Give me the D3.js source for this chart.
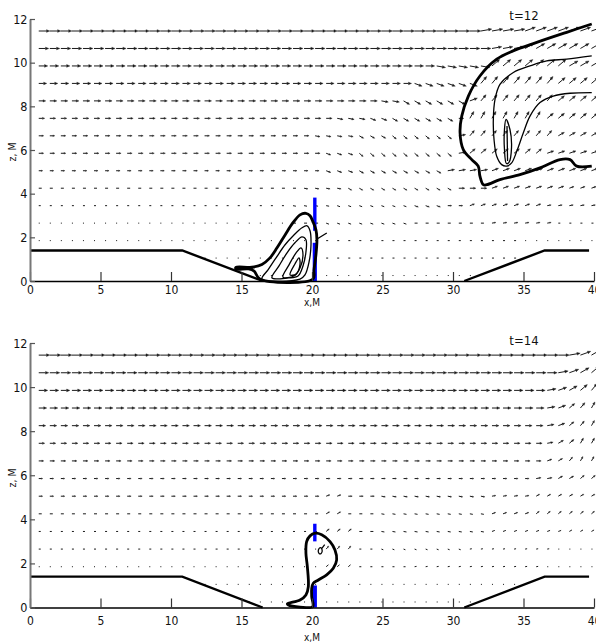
<!DOCTYPE html>
<html>
<head>
<meta charset="utf-8">
<script src="https://cdn.jsdelivr.net/npm/d3@7"></script>
<style>
  body { margin: 0; background: #fff; }
  svg text { font-family: 'Liberation Sans Narrow', 'Arial Narrow', 'DejaVu Sans Condensed', sans-serif; fill: #111; }
</style>
</head>
<body>
<div id="root"></div>
<script>
// Tick values of both panels.
const xTicks = [0, 5, 10, 15, 20, 25, 30, 35, 40];
const zTicks = [0, 2, 4, 6, 8, 10, 12];

// Quiver grid: 15 rows in z, 51 columns in x (regular grid).
const zRows = [0.25, 1.05, 1.85, 2.65, 3.45, 4.25, 5.05, 5.85, 6.65, 7.45, 8.25, 9.05, 9.85, 10.65, 11.45];
const gridStart = 0.62, gridStep = 0.784, gridCount = 51;

// Arrow length (px, base 36 digit) and direction code per row, bottom row first.
// Written as runs "count*code".
const len12 = [
  '19*0 21*1 11*0',
  '15*0 11*1 18*2 7*0',
  '25*1 19*2 7*1',
  '23*1 18*3 6*4 4*2',
  '23*2 11*3 5*4 7*5 5*4',
  '24*3 14*4 10*6 3*5',
  '26*4 11*5 14*7',
  '38*5 13*7',
  '38*5 13*7',
  '38*6 1*5 12*8',
  '39*7 12*8',
  '40*8 11*9',
  '41*9 10*a',
  '51*a',
  '51*b'
];
const ang12 = [
  '51*0',
  '51*0',
  '51*0',
  '26*0 8*b 7*0 6*1 4*0',
  '23*0 4*a 10*b 2*0 7*2 5*1',
  '24*0 4*a 10*c 3*0 10*2',
  '26*0 3*b 8*c 4*1 10*2',
  '26*0 3*b 9*d 1*1 7*4 5*2',
  '25*0 4*a 3*c 6*d 1*1 8*5 4*3',
  '27*0 3*a 2*b 6*c 1*0 7*6 5*4',
  '31*0 2*a 6*c 1*2 7*5 4*4',
  '34*0 6*b 7*5 4*4',
  '36*0 5*a 7*4 3*3',
  '41*0 3*1 7*3',
  '40*0 4*1 7*2'
];
const len14 = [
  '19*0 21*1 11*0',
  '15*0 29*1 7*0',
  '26*1 3*3 17*2 5*1',
  '23*2 3*1 3*4 18*2 4*1',
  '26*2 3*4 22*3',
  '26*3 2*4 13*3 10*4',
  '51*4',
  '45*4 6*5',
  '51*5',
  '51*6',
  '48*7 3*6',
  '48*8 3*7',
  '51*9',
  '51*a',
  '51*b'
];
const ang14 = [
  '51*0',
  '51*0',
  '26*0 3*4 5*0 12*1 5*0',
  '26*0 3*5 2*0 8*b 8*1 4*0',
  '26*0 3*4 2*0 10*a 7*2 3*3',
  '26*0 2*3 3*0 10*a 4*2 6*4',
  '26*0 2*2 3*0 10*a 4*1 6*3',
  '45*0 2*1 2*3 2*4',
  '46*0 1*2 1*3 1*5 2*6',
  '46*0 1*1 1*3 1*4 2*6',
  '46*0 1*1 1*2 1*4 1*5 1*6',
  '46*0 1*1 1*2 1*4 1*5 1*6',
  '46*0 1*1 1*2 1*3 1*4 1*5',
  '47*0 1*1 1*2 1*3 1*4',
  '48*0 1*1 1*2 1*3'
];
// Direction codes in degrees.
const angleCodes = { '0': 0, '1': 10, '2': 20, '3': 30, '4': 40, '5': 50, '6': 60, 'a': -10, 'b': -20, 'c': -30, 'd': -40 };

// Bottom profile.
const bedLeft = [[0, 1.4], [10.8, 1.4], [16.5, 0]];
const bedRight = [[30.8, 0], [36.5, 1.4], [39.65, 1.4]];

// t=12 contours.
const vortexOuter12 = [[39.84, 11.77], [38.06, 11.39], [35.94, 10.93], [34.26, 10.54], [33.1, 10.16], [31.91, 9.39], [31.09, 8.47], [30.62, 7.55], [30.5, 6.79], [30.73, 6.02], [31.33, 5.56], [31.79, 5.26], [31.91, 4.8], [32.15, 4.41], [32.39, 4.41], [33.33, 4.64], [34.75, 4.87], [36.17, 5.18], [37.59, 5.56], [38.3, 5.56], [38.77, 5.26], [39.84, 5.26]];
const vortexInner12 = [[39.84, 10.31], [38.06, 10.16], [36.65, 10.08], [35.46, 9.85], [34.28, 9.55], [33.33, 9.01], [32.98, 8.32], [32.86, 7.4], [32.91, 6.48], [33.1, 5.71], [33.45, 5.33], [33.81, 5.26], [34.16, 5.41], [34.52, 5.94], [34.99, 6.79], [35.46, 7.55], [36.17, 8.17], [37.11, 8.47], [38.3, 8.6], [39.84, 8.63]];
const vortexCore12 = [[33.76, 7.4], [34.04, 6.94], [34.15, 6.11], [33.97, 5.43], [33.79, 5.38], [33.65, 6.02], [33.65, 6.94]];
const vortexCoreLine12 = [[33.83, 7.1], [33.87, 5.5]];
const blobOuter12 = [[14.61, 0.63], [15.74, 0.63], [16.45, 0.76], [17.02, 1.06], [17.52, 1.52], [18.09, 2.11], [18.65, 2.67], [19.15, 3.03], [19.57, 3.1], [19.86, 2.99], [20.07, 2.71], [20.28, 2.34], [20.35, 1.89], [20.28, 1.2], [20.14, 0.51], [20.07, 0.09], [16.3, 0.09], [15.9, 0.45], [15.5, 0.55], [14.61, 0.55]];
const blobLoops12 = [
  [[16.45, 0.09], [16.88, 0.51], [17.45, 1.06], [18.09, 1.66], [18.72, 2.11], [19.29, 2.44], [19.65, 2.53], [19.86, 2.3], [19.93, 1.66], [19.79, 0.87], [19.5, 0.28], [19.15, 0.09]],
  [[17.16, 0.14], [17.66, 0.69], [18.23, 1.29], [18.79, 1.75], [19.29, 2.02], [19.57, 1.89], [19.57, 1.33], [19.36, 0.69], [19.01, 0.23], [18.3, 0.14]],
  [[17.94, 0.18], [18.37, 0.74], [18.87, 1.29], [19.22, 1.52], [19.36, 1.2], [19.15, 0.6], [18.72, 0.23]],
  [[18.44, 0.28], [18.79, 0.78], [19.08, 1.06], [19.15, 0.78], [18.87, 0.32]]
];
const blobArm12 = [[20.3, 1.9], [21.05, 2.2]];
const gauge12 = [[3.82, 2.3], [1.75, 0]];

// t=14 contours.
const blobOuter14 = [[18.25, 0.16], [19.15, 0.34], [19.57, 0.57], [19.74, 0.95], [19.67, 1.85], [19.57, 2.46], [19.62, 2.99], [19.86, 3.25], [20.21, 3.37], [20.69, 3.3], [21.28, 2.99], [21.63, 2.61], [21.75, 2.16], [21.51, 1.78], [21.04, 1.48], [20.45, 1.25], [20.09, 1.1], [19.98, 0.87], [19.98, 0.49], [20.05, 0.04], [19.15, 0.02], [18.32, 0.11]];
const blobCurl14 = [[20.5, 2.45], [20.45, 2.6], [20.6, 2.72], [20.72, 2.6], [20.65, 2.45]];
const blobTail14 = [[20.7, 2.68], [20.9, 2.85]];
const gauge14 = [[3.8, 3.0], [1.0, 0]];
const gaugeX = 20.2;

const W = 596, H = 642;
const svg = d3.select('#root').append('svg')
  .attr('width', W)
  .attr('height', H);

const x = d3.scaleLinear().domain([0, 40]).range([30, 594]);
const cols = d3.range(gridCount).map(i => gridStart + gridStep * i);
const fontFam = "'Liberation Sans Narrow', 'Arial Narrow', 'DejaVu Sans Condensed', sans-serif";

function expand(spec) {
  let s = spec.split(' ').map(t => {
    const [n, c] = t.split('*');
    return c.repeat(+n);
  }).join('');
  return s.padEnd(gridCount, s[s.length - 1]).slice(0, gridCount);
}

const f = v => v.toFixed(2);

function drawPanel(p) {
  const y = d3.scaleLinear().domain([0, 12]).range([p.bottom, p.top]);
  const g = svg.append('g');
  const line = d3.line().x(d => x(d[0])).y(d => y(d[1]));
  const smooth = d3.line().x(d => x(d[0])).y(d => y(d[1])).curve(d3.curveCatmullRom);
  const loop = d3.line().x(d => x(d[0])).y(d => y(d[1])).curve(d3.curveCatmullRomClosed);

  // Velocity arrows: shafts as one path, heads as small filled triangles.
  let shafts = '', heads = '';
  zRows.forEach((z, r) => {
    const ls = expand(p.len[r]);
    const as = expand(p.ang[r]);
    cols.forEach((cx, i) => {
      const L = parseInt(ls[i], 36);
      if (!L) return;
      const a = angleCodes[as[i]] * Math.PI / 180;
      const c = Math.cos(a), s = Math.sin(a);
      const x1 = x(cx), y1 = y(z);
      const x2 = x1 + L * c, y2 = y1 - L * s;
      if (L >= 4) {
        const h = Math.min(3.2, 0.38 * L), w = h * 0.42;
        const bx = x2 - h * c, by = y2 + h * s;
        shafts += `M${f(x1)},${f(y1)}L${f(bx)},${f(by)}`;
        heads += `M${f(x2)},${f(y2)}L${f(bx - w * s)},${f(by - w * c)}L${f(bx + w * s)},${f(by + w * c)}Z`;
      } else {
        shafts += `M${f(x1)},${f(y1)}L${f(x2)},${f(y2)}`;
      }
    });
  });
  g.append('path')
    .attr('d', shafts)
    .attr('fill', 'none')
    .attr('stroke', '#1a1a1a')
    .attr('stroke-width', 1);
  g.append('path')
    .attr('d', heads)
    .attr('fill', '#1a1a1a')
    .attr('stroke', '#1a1a1a')
    .attr('stroke-width', 0.4);

  // Bottom profile.
  [bedLeft, bedRight].forEach(b => {
    g.append('path').attr('d', line(b))
      .attr('fill', 'none').attr('stroke', '#000').attr('stroke-width', 2.4);
  });

  // Gauge (blue).
  p.gauge.forEach((seg, k) => {
    g.append('line')
      .attr('x1', x(gaugeX)).attr('x2', x(gaugeX))
      .attr('y1', y(seg[0])).attr('y2', y(seg[1]))
      .attr('stroke', '#0000ff')
      .attr('stroke-width', k === 0 ? 3.4 : 4.2);
  });

  // Contours.
  p.thickOpen.forEach(c => g.append('path').attr('d', smooth(c))
    .attr('fill', 'none').attr('stroke', '#000').attr('stroke-width', 2.8));
  p.thickClosed.forEach(c => g.append('path').attr('d', loop(c))
    .attr('fill', 'none').attr('stroke', '#000').attr('stroke-width', 2.8));
  p.thinOpen.forEach(c => g.append('path').attr('d', smooth(c))
    .attr('fill', 'none').attr('stroke', '#000').attr('stroke-width', 1.3));
  p.thinClosed.forEach(c => g.append('path').attr('d', loop(c))
    .attr('fill', 'none').attr('stroke', '#000').attr('stroke-width', 1.3));

  // Axes.
  const xAxis = d3.axisBottom(x).tickValues(xTicks).tickSize(-9).tickSizeOuter(0).tickPadding(p.xPad);
  const gx = g.append('g')
    .attr('transform', `translate(0,${p.bottom})`)
    .call(xAxis);
  gx.select('.domain').attr('stroke', '#000').attr('stroke-width', 1.6);
  gx.selectAll('.tick line').attr('stroke', '#333').attr('stroke-width', 1.2);
  gx.selectAll('text').attr('font-size', 12).style('font-family', fontFam);

  const yAxis = d3.axisLeft(y).tickValues(zTicks).tickSize(-5).tickSizeOuter(0).tickPadding(2.5);
  const gy = g.append('g')
    .attr('transform', `translate(${x(0)},0)`)
    .call(yAxis);
  gy.select('.domain').attr('stroke', '#777').attr('stroke-width', 2);
  gy.selectAll('.tick line').attr('stroke', '#555').attr('stroke-width', 1.2);
  gy.selectAll('text').attr('font-size', 12.5).style('font-family', fontFam);

  // Labels.
  g.append('text')
    .attr('x', 312).attr('y', p.xLabelY)
    .attr('text-anchor', 'middle')
    .attr('font-size', 10)
    .text('x,M');
  g.append('text')
    .attr('transform', `translate(16,${p.zLabelY}) rotate(-90)`)
    .attr('text-anchor', 'middle')
    .attr('font-size', 10.5)
    .text('z, M');
  g.append('text')
    .attr('x', 524).attr('y', p.titleY)
    .attr('text-anchor', 'middle')
    .attr('font-size', 13)
    .text(p.title);
}

drawPanel({
  title: 't=12', top: 19, bottom: 281, xPad: 4, xLabelY: 306, zLabelY: 152, titleY: 20,
  len: len12, ang: ang12, gauge: gauge12,
  thickOpen: [vortexOuter12],
  thickClosed: [blobOuter12],
  thinOpen: [vortexInner12, vortexCoreLine12, blobArm12],
  thinClosed: [vortexCore12].concat(blobLoops12)
});

drawPanel({
  title: 't=14', top: 343, bottom: 607.5, xPad: 9, xLabelY: 641, zLabelY: 478, titleY: 345,
  len: len14, ang: ang14, gauge: gauge14,
  thickOpen: [],
  thickClosed: [blobOuter14],
  thinOpen: [blobTail14],
  thinClosed: [blobCurl14]
});
</script>
</body>
</html>
